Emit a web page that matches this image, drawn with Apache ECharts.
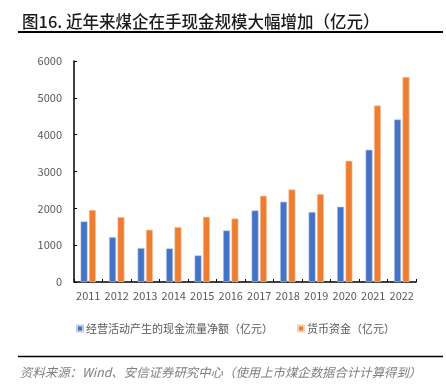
<!DOCTYPE html>
<html><head><meta charset="utf-8">
<script src="https://cdn.jsdelivr.net/npm/echarts@6/dist/echarts.min.js"></script>
<style>html,body{margin:0;padding:0;background:#fff}#c{width:446px;height:392px}</style>
</head><body><div id="c"></div>
<script>
var titleText = '图16. 近年来煤企在手现金规模大幅增加（亿元）';
var sourceText = '资料来源：Wind、安信证券研究中心（使用上市煤企数据合计计算得到）';
var years = ['2011','2012','2013','2014','2015','2016','2017','2018','2019','2020','2021','2022'];
var cashFlowName = '经营活动产生的现金流量净额（亿元）';
var cashName = '货币资金（亿元）';
var cashFlow = [1645, 1220, 922, 912, 722, 1400, 1943, 2180, 1900, 2044, 3590, 4413];
var cash = [1955, 1764, 1420, 1493, 1772, 1726, 2342, 2513, 2388, 3292, 4793, 5565];
var yTicks = [0, 1000, 2000, 3000, 4000, 5000, 6000];

var chart = echarts.init(document.getElementById('c'), null, {renderer:'canvas'});
var font = '"Noto Sans CJK SC", "Liberation Sans", sans-serif';
chart.setOption({
  animation: false,
  textStyle: {fontFamily: font},
  title: {text: titleText, left: 17, top: 8, textStyle: {fontSize: 16.5, fontWeight: 500, color: '#1a1a1a', fontFamily: font}},
  grid: {left: 74, right: 30, top: 61, bottom: 110, containLabel: false},
  legend: {
    left: 71, top: 318, icon: 'rect', itemWidth: 6, itemHeight: 6, itemGap: 24,
    textStyle: {fontSize: 11, color: '#595959', padding: [0,0,0,-2]},
    data: [cashFlowName, cashName]
  },
  xAxis: {
    type: 'category', data: years,
    axisLine: {lineStyle: {color: '#000', width: 1.5}},
    axisTick: {show: true, inside: true, length: 3, lineStyle: {color: '#000'}},
    axisLabel: {fontSize: 11, color: '#595959', margin: 8, interval: 0}
  },
  yAxis: {
    type: 'value', min: yTicks[0], max: yTicks[yTicks.length-1], interval: 1000,
    axisLine: {show: true, lineStyle: {color: '#000', width: 1.5}},
    axisTick: {show: true, inside: true, length: 3, lineStyle: {color: '#000'}},
    splitLine: {show: false},
    axisLabel: {fontSize: 11, color: '#595959', margin: 12, formatter: function (v) { return String(v); }}
  },
  series: [
    {name: cashFlowName, type: 'bar', data: cashFlow, barWidth: 7, barGap: '20%',
     itemStyle: {color: '#4472C4', borderColor: '#BFCDEA', borderWidth: 0.6}},
    {name: cashName, type: 'bar', data: cash, barWidth: 7,
     itemStyle: {color: '#ED7D31', borderColor: '#F8D0B4', borderWidth: 0.6}}
  ],
  graphic: [
    {type: 'line', shape: {x1: 18, y1: 32, x2: 443, y2: 32}, style: {stroke: '#000', lineWidth: 2}},
    {type: 'line', shape: {x1: 18, y1: 356.5, x2: 443, y2: 356.5}, style: {stroke: '#000', lineWidth: 1.5}},
    {type: 'text', left: 20, top: 366, style: {text: sourceText, fontSize: 12.4, fontStyle: 'italic', fill: '#7f7f7f', fontFamily: font}}
  ]
});
</script></body></html>
